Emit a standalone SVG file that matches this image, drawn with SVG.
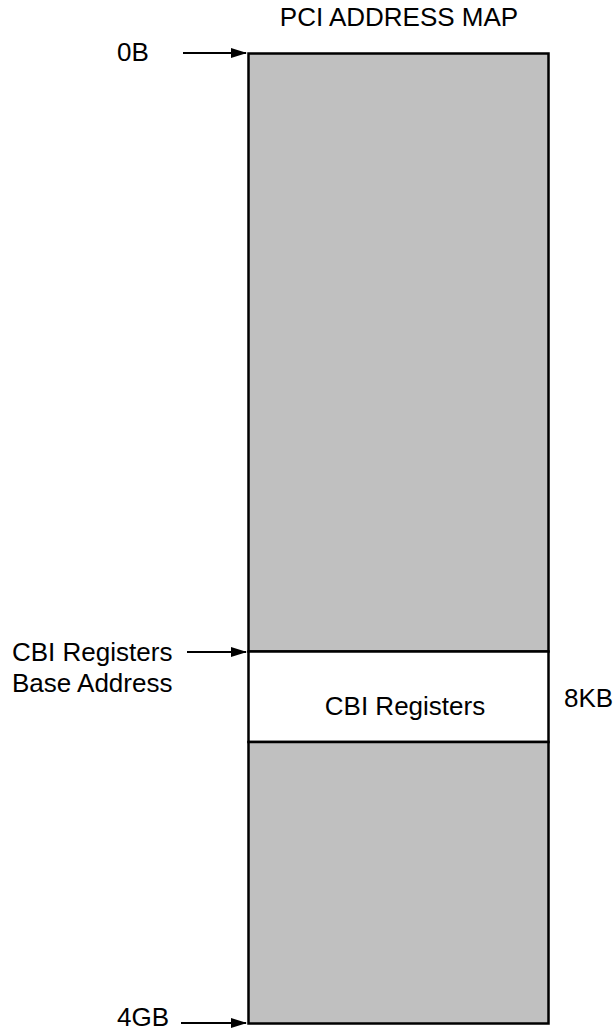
<svg xmlns="http://www.w3.org/2000/svg" width="616" height="1029" viewBox="0 0 616 1029">
<style>
text{font-family:"Liberation Sans",Arial,sans-serif;font-size:26px;fill:#000}
.reg{fill:#c0c0c0;stroke:#000;stroke-width:2.5}
.win{fill:#fff;stroke:#000;stroke-width:2.5}
.arr{stroke:#000;stroke-width:2;fill:none;marker-end:url(#ah)}
</style>
<defs>
<marker id="ah" markerWidth="16" markerHeight="10" refX="15" refY="5" orient="auto" markerUnits="userSpaceOnUse">
<path d="M0,0 L16,5 L0,10 Z" fill="#000"/>
</marker>
</defs>
<text x="399" y="26" text-anchor="middle">PCI ADDRESS MAP</text>
<g id="upper"><rect class="reg" x="248.5" y="53.5" width="300" height="598"/></g>
<g id="cbi"><rect class="win" x="248.5" y="651.5" width="300" height="90.5"/>
<text x="405" y="715" text-anchor="middle">CBI Registers</text></g>
<g id="lower"><rect class="reg" x="248.5" y="742" width="300" height="281.5"/></g>
<g id="labels">
<text x="117" y="61">0B</text>
<text x="12" y="661">CBI Registers</text>
<text x="12" y="692">Base Address</text>
<text x="564" y="707">8KB</text>
<text x="117" y="1026">4GB</text>
</g>
<g id="connectors">
<line class="arr" x1="183" y1="53" x2="246" y2="53"/>
<line class="arr" x1="187" y1="652" x2="246" y2="652"/>
<line class="arr" x1="181" y1="1023" x2="246" y2="1023"/>
</g>
</svg>
